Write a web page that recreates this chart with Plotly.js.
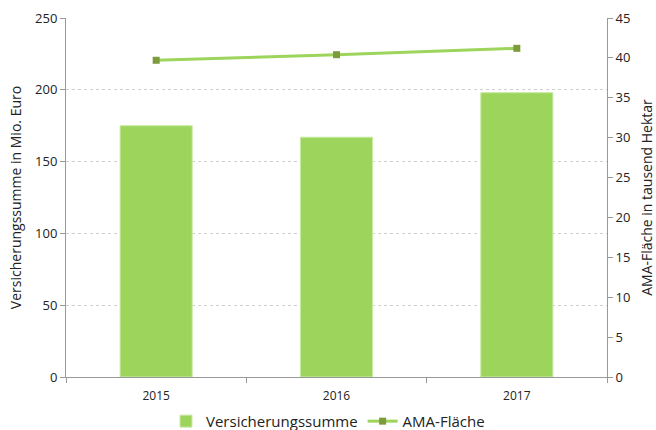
<!DOCTYPE html>
<html><head><meta charset="utf-8">
<script src="https://cdn.plot.ly/plotly-3.0.1.min.js"></script>
<style>body{margin:0}#c{width:656px;height:430px}</style>
</head><body><div id="c"></div>
<script>
const years = ["2015", "2016", "2017"];
const versicherungssumme = [175, 167, 198];
const amaFlaeche = [39.7, 40.4, 41.2];
const leftTicks = [0, 50, 100, 150, 200, 250];
const rightTicks = [0, 5, 10, 15, 20, 25, 30, 35, 40, 45];

const font = {family: "Open Sans, Liberation Sans, sans-serif", size: 12, color: "#222"};
const traces = [
  {type: "bar", x: years, y: versicherungssumme, name: "Versicherungssumme",
   marker: {color: "#9dd55c", line: {color: "#c9eaa4", width: 1}}, width: 0.4},
  {type: "scatter", mode: "lines+markers", x: years, y: amaFlaeche, name: "AMA-Fläche", yaxis: "y2",
   line: {color: "#9dd55c", width: 3}, marker: {symbol: "square", size: 7, color: "#7d9a3c"}}
];
const layout = {
  width: 656, height: 430,
  margin: {l: 66, r: 49, t: 18, b: 53, autoexpand: false},
  paper_bgcolor: "#fff", plot_bgcolor: "#fff",
  font: font,
  showlegend: true,
  legend: {orientation: "h", x: 0.5, xanchor: "center", xref: "container",
           y: 0.02, yanchor: "middle", yref: "container",
           font: {family: font.family, size: 15, color: "#222"}, traceorder: "normal",
           itemwidth: 30, tracegroupgap: 0},
  xaxis: {type: "category", tickson: "boundaries", ticks: "outside", ticklen: 5, tickcolor: "#999",
          showline: true, linecolor: "#999", linewidth: 1, showgrid: false, automargin: false,
          ticklabelstandoff: 8, tickfont: {size: 12}},
  yaxis: {range: [0, 250], tickvals: leftTicks, ticks: "outside", ticklen: 5, tickcolor: "#999",
          showline: true, linecolor: "#999", showgrid: true, gridcolor: "#d0d0d0", griddash: "dot",
          gridwidth: 1, zeroline: false, tickfont: {size: 13}, automargin: false,
          title: {text: "Versicherungssumme in Mio. Euro", font: {size: 14}, standoff: 10}},
  yaxis2: {range: [0, 45], tickvals: rightTicks, overlaying: "y", side: "right",
           ticks: "outside", ticklen: 5, tickcolor: "#999", showline: true, linecolor: "#999",
           showgrid: false, zeroline: false, tickfont: {size: 13}, automargin: false,
           title: {text: "AMA-Fläche in tausend Hektar", font: {size: 14}, standoff: 12}}
};
Plotly.newPlot("c", traces, layout, {displayModeBar: false, staticPlot: true});
</script></body></html>
